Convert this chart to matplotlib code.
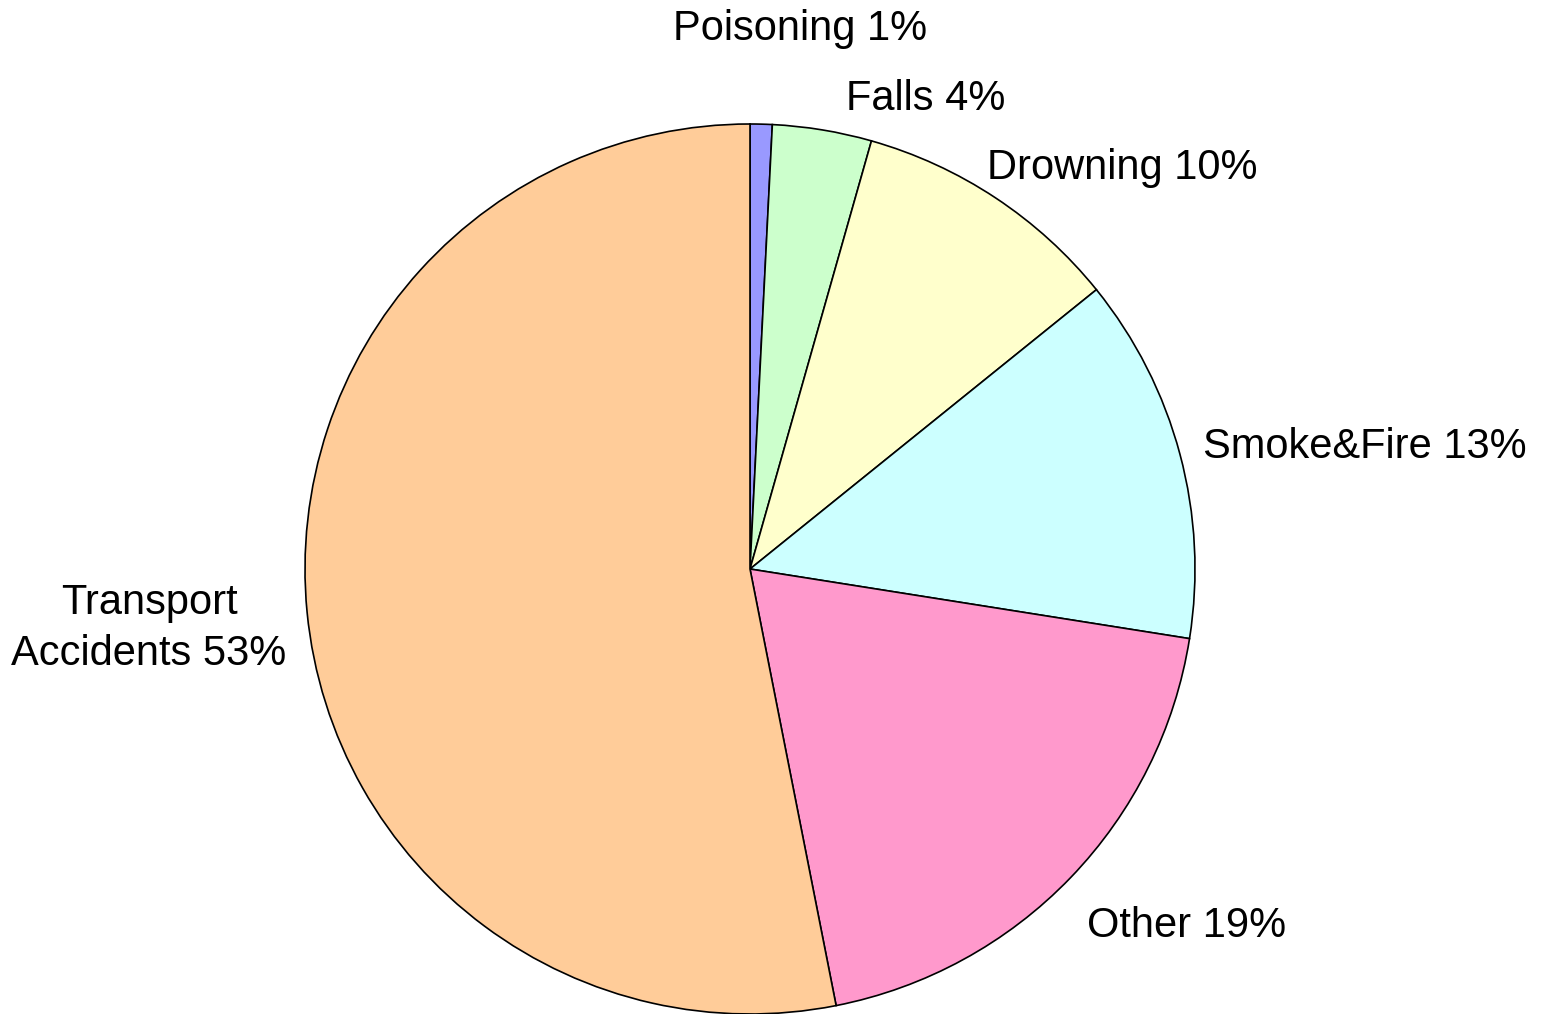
import matplotlib
matplotlib.use('Agg')
import matplotlib.pyplot as plt

# data (share of deaths by cause)
causes = ['Poisoning', 'Falls', 'Drowning', 'Smoke&Fire', 'Other', 'Transport\nAccidents']
shares = [0.8, 3.6, 9.8, 13.3, 19.4, 53.1]
colors = ['#9999FF', '#CCFFCC', '#FFFFCC', '#CCFFFF', '#FF99CC', '#FFCC99']

plt.rcParams['font.family'] = ['Liberation Sans', 'DejaVu Sans']

W, H = 1541, 1014
fig = plt.figure(figsize=(W / 100, H / 100), dpi=100, facecolor='w')
ax = fig.add_axes([0, 0, 1, 1])

ax.pie(shares, colors=colors, startangle=90, counterclock=False,
       center=(750, H - 569), radius=445,
       wedgeprops=dict(edgecolor='black', linewidth=1.2))

# pie() resets the limits, so set them afterwards
ax.set_xlim(0, W)
ax.set_ylim(0, H)
ax.set_aspect('equal')
ax.set_axis_off()

# label placement (left x, baseline y from top of last line, alignment)
label_pos = [(673, 40, 'left'), (846, 110, 'left'), (987, 179, 'left'),
             (1203, 458, 'left'), (1087, 937, 'left'), (149, 665, 'center')]

for name, val, (lx, ly, ha) in zip(causes, shares, label_pos):
    txt = '%s %.0f%%' % (name, val)
    ax.text(lx, H - ly, txt, fontsize=30, ha=ha, va='baseline',
            multialignment='center', linespacing=1.36)

fig.savefig('out.png', dpi=100, facecolor='w')
